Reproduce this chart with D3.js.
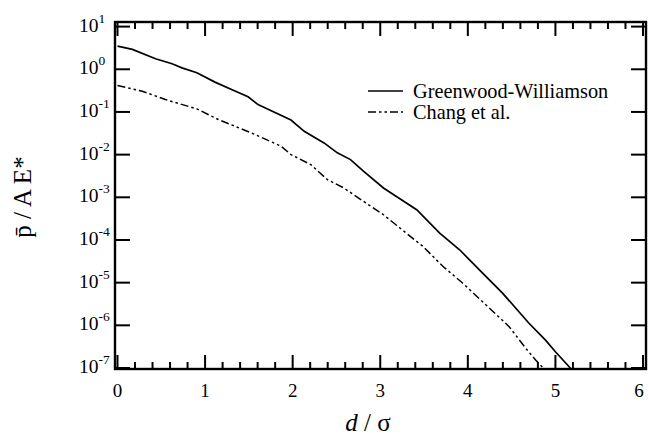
<!DOCTYPE html>
<html><head><meta charset="utf-8">
<script src="https://cdn.jsdelivr.net/npm/d3@7"></script>
<style>html,body{margin:0;padding:0;background:#fff;}svg{display:block;}</style>
</head><body>
<script>
// Data
const gwX = [0, 0.17, 0.434, 0.623, 0.736, 0.906, 1.113, 1.302, 1.491, 1.604, 1.792, 1.981, 2.132, 2.358, 2.51, 2.66, 2.811, 3.037, 3.189, 3.416, 3.679, 3.906, 4.132, 4.396, 4.698, 4.887, 5.0, 5.18];
const gwY = [3.5, 2.92, 1.76, 1.35, 1.08, 0.83, 0.50, 0.336, 0.226, 0.149, 0.098, 0.0646, 0.0352, 0.0188, 0.011, 0.00764, 0.00406, 0.00165, 0.00103, 5.12e-4, 1.45e-4, 5.9e-5, 2.0e-5, 5.7e-6, 1.12e-6, 4.5e-7, 2.4e-7, 9.5e-8];
const chX = [0, 0.283, 0.547, 0.906, 1.151, 1.528, 1.868, 1.981, 2.208, 2.397, 2.585, 2.811, 3.037, 3.264, 3.49, 3.717, 3.943, 4.208, 4.472, 4.661, 4.774, 4.87];
const chY = [0.417, 0.306, 0.195, 0.118, 0.0664, 0.0323, 0.0157, 0.01, 0.00582, 0.00259, 0.00165, 8.0e-4, 3.9e-4, 1.64e-4, 7.0e-5, 2.39e-5, 9.7e-6, 3.0e-6, 9.3e-7, 2.9e-7, 1.54e-7, 9.5e-8];
const seriesNames = ["Greenwood-Williamson", "Chang et al."];
const xTickLabels = ["0", "1", "2", "3", "4", "5", "6"];
const yExponents = ["1", "0", "-1", "-2", "-3", "-4", "-5", "-6", "-7"];

const W = 649, H = 438;
const svg = d3.select("body").append("svg").attr("width", W).attr("height", H);
const font = "'Liberation Serif','Times New Roman',serif";

const x = d3.scaleLinear().domain([0, 6]).range([117.5, 643]);
const y = d3.scaleLog().domain([1e-7, 1e1]).range([368, 26.6]);
const fx0 = 115, fx1 = 646, fy0 = 22, fy1 = 369;

svg.append("clipPath").attr("id", "clip").append("rect")
  .attr("x", fx0).attr("y", fy0).attr("width", fx1 - fx0).attr("height", fy1 - fy0);

const line = d3.line().x(d => x(d[0])).y(d => y(d[1]));
const gw = gwX.map((v, i) => [v, gwY[i]]);
const ch = chX.map((v, i) => [v, chY[i]]);

svg.append("path").datum(gw).attr("d", line).attr("clip-path", "url(#clip)")
  .attr("fill", "none").attr("stroke", "#000").attr("stroke-width", 1.7);
svg.append("path").datum(ch).attr("d", line).attr("clip-path", "url(#clip)")
  .attr("fill", "none").attr("stroke", "#000").attr("stroke-width", 1.5)
  .attr("stroke-dasharray", "8,3,2.5,3,2.5,3");

// Frame
svg.append("rect").attr("x", fx0).attr("y", fy0).attr("width", fx1 - fx0).attr("height", fy1 - fy0)
  .attr("fill", "none").attr("stroke", "#000").attr("stroke-width", 2.4);

// X ticks (bottom and top, inward)
const xMinor = d3.range(0, 30.01, 1).map(i => i / 5);
const tg = svg.append("g").attr("stroke", "#000").attr("stroke-width", 2);
xMinor.forEach(v => {
  const major = Math.abs(v - Math.round(v)) < 1e-6;
  const len = major ? 14 : 7;
  tg.append("line").attr("x1", x(v)).attr("x2", x(v)).attr("y1", fy1).attr("y2", fy1 - len);
  tg.append("line").attr("x1", x(v)).attr("x2", x(v)).attr("y1", fy0).attr("y2", fy0 + len);
});
// Y ticks (left and right, inward)
const yTicks = y.ticks().filter(v => Math.abs(Math.log10(v) - Math.round(Math.log10(v))) < 1e-6);
yTicks.forEach(v => {
  tg.append("line").attr("x1", fx0).attr("x2", fx0 + 15).attr("y1", y(v)).attr("y2", y(v));
  tg.append("line").attr("x1", fx1).attr("x2", fx1 - 15).attr("y1", y(v)).attr("y2", y(v));
});

// X tick labels
xTickLabels.forEach((t, i) => {
  svg.append("text").attr("x", Math.min(x(+t), 639)).attr("y", 397).attr("text-anchor", "middle")
    .attr("font-family", font).attr("font-size", 19).text(t);
});
// Y tick labels
yExponents.forEach(e => {
  const v = Math.pow(10, +e);
  const t = svg.append("text").attr("x", 79).attr("y", y(v) + 5)
    .attr("font-family", font).attr("font-size", 19.5);
  t.append("tspan").text("10");
  t.append("tspan").attr("dy", -9).attr("font-size", 13.5).text(e);
});

// Axis titles
svg.append("text").attr("x", 368).attr("y", 431).attr("text-anchor", "middle")
  .attr("font-family", font).attr("font-size", 25)
  .call(t => { t.append("tspan").attr("font-style", "italic").text("d"); t.append("tspan").text(" / σ"); });
svg.append("text").attr("transform", "translate(31,197) rotate(-90)").attr("text-anchor", "middle")
  .attr("font-family", font).attr("font-size", 25).text("p\u0304 / A E*");

// Legend
const lg = [{ name: seriesNames[0], dash: null, y: 91 }, { name: seriesNames[1], dash: "8,3,2.5,3,2.5,3", y: 112 }];
lg.forEach(d => {
  svg.append("line").attr("x1", 368).attr("x2", 403).attr("y1", d.y).attr("y2", d.y)
    .attr("stroke", "#000").attr("stroke-width", 1.5).attr("stroke-dasharray", d.dash);
  svg.append("text").attr("x", 413).attr("y", d.y + 7).attr("font-family", font)
    .attr("font-size", 20.3).text(d.name);
});
</script>
</body></html>
